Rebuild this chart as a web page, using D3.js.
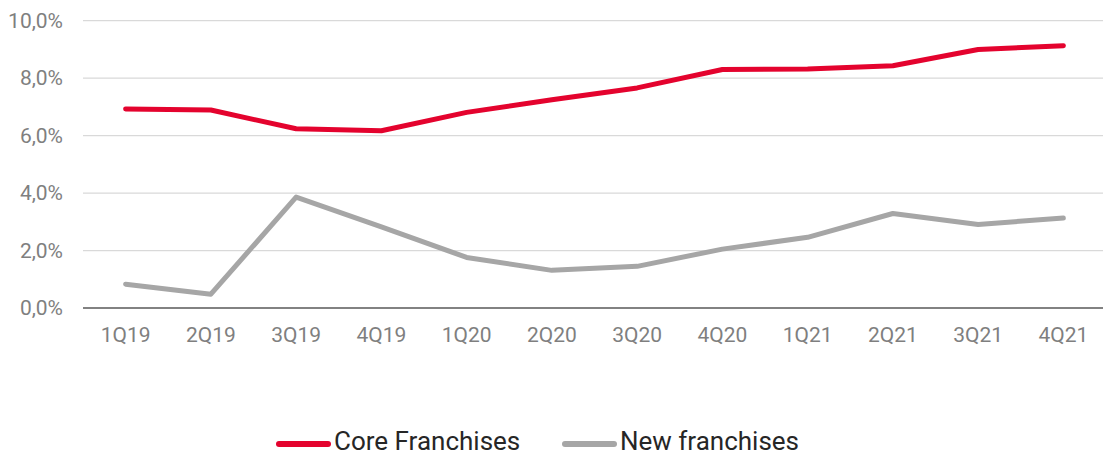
<!DOCTYPE html>
<html>
<head>
<meta charset="utf-8">
<script src="https://cdn.jsdelivr.net/npm/d3@7"></script>
<style>
  html, body { margin: 0; padding: 0; background: #fff; }
  svg { display: block; font-family: Roboto, "Noto Sans", sans-serif; }
</style>
</head>
<body>
<svg id="chart" width="1103" height="459"></svg>
<script>
// Quarterly share of revenue by franchise group (%)
const quarters = ["1Q19", "2Q19", "3Q19", "4Q19", "1Q20", "2Q20", "3Q20", "4Q20", "1Q21", "2Q21", "3Q21", "4Q21"];
const coreFranchises = [6.93, 6.89, 6.24, 6.17, 6.81, 7.25, 7.66, 8.30, 8.32, 8.43, 9.00, 9.13];
const newFranchises = [0.83, 0.48, 3.86, 2.82, 1.76, 1.31, 1.45, 2.05, 2.46, 3.29, 2.91, 3.13];
const yTicks = [0, 2, 4, 6, 8, 10];
const seriesNames = ["Core Franchises", "New franchises"];
const seriesColors = ["#e4032e", "#a6a6a6"];

const svg = d3.select("#chart");
const margin = { left: 83, right: -3, top: 20.7, bottom: 151 };
const width = 1103, height = 459;

const x = d3.scaleBand()
  .domain(quarters)
  .range([margin.left, width - margin.right])
  .paddingInner(0).paddingOuter(0);

const y = d3.scaleLinear()
  .domain([0, 10])
  .range([height - margin.bottom, margin.top]);

const fmt = v => d3.format(".1f")(v).replace(".", ",") + "%";

// Horizontal gridlines
svg.append("g")
  .selectAll("line")
  .data(yTicks.filter(t => t > 0))
  .join("line")
  .attr("x1", margin.left)
  .attr("x2", width)
  .attr("y1", d => y(d))
  .attr("y2", d => y(d))
  .attr("stroke", "#d9d9d9")
  .attr("stroke-width", 1.2);

// Y axis labels
const yAxis = svg.append("g")
  .attr("transform", `translate(${margin.left - 20},0)`)
  .call(d3.axisLeft(y).tickValues(yTicks).tickFormat(fmt).tickSize(0).tickPadding(0));
yAxis.select(".domain").remove();
yAxis.selectAll("text")
  .attr("font-size", 21)
  .attr("font-family", "Roboto, sans-serif")
  .attr("fill", "#7f7f7f");

// X axis
const xAxis = svg.append("g")
  .attr("transform", `translate(0,${y(0)})`)
  .call(d3.axisBottom(x).tickSize(0).tickPadding(19.5));
xAxis.select(".domain")
  .attr("stroke", "#595959")
  .attr("stroke-width", 1.5)
  .attr("d", `M${margin.left},0H${width}`);
xAxis.selectAll("text")
  .attr("font-size", 21)
  .attr("font-family", "Roboto, sans-serif")
  .attr("fill", "#7f7f7f");

// Lines
const line = d3.line()
  .x((d, i) => x(quarters[i]) + x.bandwidth() / 2)
  .y(d => y(d));

[coreFranchises, newFranchises].forEach((series, i) => {
  svg.append("path")
    .datum(series)
    .attr("d", line)
    .attr("fill", "none")
    .attr("stroke", seriesColors[i])
    .attr("stroke-width", 5)
    .attr("stroke-linejoin", "round")
    .attr("stroke-linecap", "round");
});

// Legend
const legendItems = [
  { name: seriesNames[0], color: seriesColors[0], x: 276 },
  { name: seriesNames[1], color: seriesColors[1], x: 562 }
];
const legend = svg.append("g");
legendItems.forEach(item => {
  const g = legend.append("g").attr("transform", `translate(${item.x},444)`);
  g.append("line")
    .attr("x1", 3).attr("x2", 52)
    .attr("y1", 0).attr("y2", 0)
    .attr("stroke", item.color)
    .attr("stroke-width", 6)
    .attr("stroke-linecap", "round");
  g.append("text")
    .attr("x", 58)
    .attr("y", -3)
    .attr("dy", "0.35em")
    .attr("font-size", 26)
    .attr("fill", "#262626")
    .text(item.name);
});
</script>
</body>
</html>
